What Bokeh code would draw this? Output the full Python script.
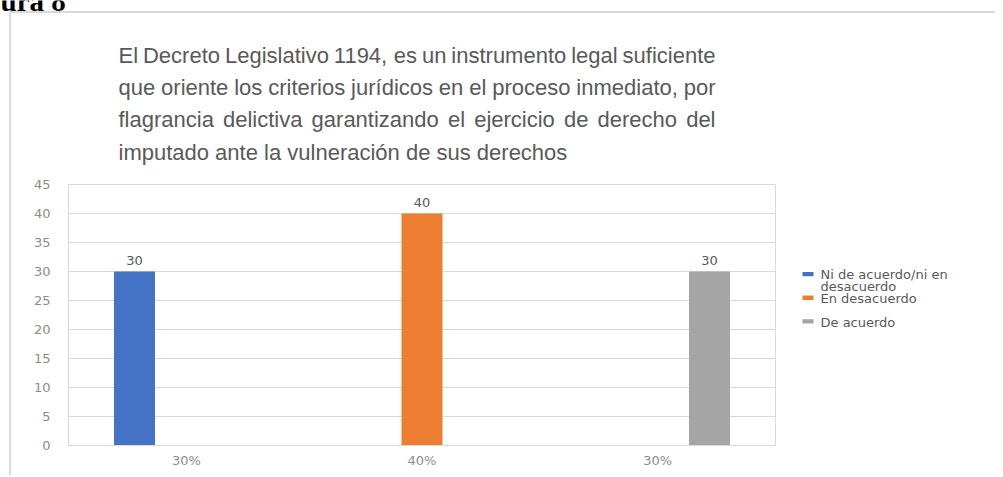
from bokeh.plotting import figure
from bokeh.layouts import column, row
from bokeh.models import Range1d, FixedTicker
from bokeh.core.properties import value
from bokeh.embed import file_html
from bokeh.resources import INLINE

# ---------------- data ----------------
categories = ["30%", "40%", "30%"]
series_names = ["Ni de acuerdo/ni en desacuerdo", "En desacuerdo", "De acuerdo"]
series_name_lines = [["Ni de acuerdo/ni en", "desacuerdo"], ["En desacuerdo"], ["De acuerdo"]]
values_ni_de_acuerdo = [30, None, None]
values_en_desacuerdo = [None, 40, None]
values_de_acuerdo = [None, None, 30]
y_ticks = [0, 5, 10, 15, 20, 25, 30, 35, 40, 45]
title_lines = [
    "El Decreto Legislativo 1194, es un instrumento legal suficiente",
    "que oriente los criterios jurídicos en el proceso inmediato, por",
    "flagrancia delictiva garantizando el ejercicio de derecho del",
    "imputado ante la vulneración de sus derechos",
]
heading_fragment = "ura 8"

series_values = [values_ni_de_acuerdo, values_en_desacuerdo, values_de_acuerdo]
series_colors = ["#4472C4", "#ED7D31", "#A5A5A5"]

# ---------------- layout (page pixels) ----------------
PAGE_R, PAGE_B = 995, 475
SPLIT_Y = 172            # boundary title block / chart block
SPLIT_X = 780            # boundary chart / legend
FL, FR, FT, FB = 68, 775, 184, 445   # plot area
CHART_FONT = "DejaVu Sans"
GRID = "#d9d9d9"
LINE_BG = "linear-gradient(#d9d9d9,#d9d9d9)"


def blank(fig):
    fig.xaxis.visible = False
    fig.yaxis.visible = False
    fig.xgrid.visible = False
    fig.ygrid.visible = False
    fig.outline_line_color = None
    fig.border_fill_alpha = 0
    fig.background_fill_alpha = 0
    fig.min_border = 0


# ---------- title block ----------
tf = figure(width=PAGE_R, height=SPLIT_Y, x_range=Range1d(0, PAGE_R), y_range=Range1d(SPLIT_Y, 0),
            output_backend="svg", toolbar_location=None, title=None)
blank(tf)
tf.styles = {
    "background-image": f"{LINE_BG}, {LINE_BG}",
    "background-size": "100% 2px, 2px 100%",
    "background-position": "10px 11px, 9px 11px",
    "background-repeat": "no-repeat",
}

ARIAL = {' ': 278, ',': 278, '.': 278, 'a': 556, 'b': 556, 'c': 500, 'd': 556, 'e': 556, 'f': 278,
         'g': 556, 'h': 556, 'i': 222, 'j': 222, 'k': 500, 'l': 222, 'm': 833, 'n': 556, 'o': 556,
         'p': 556, 'q': 556, 'r': 333, 's': 500, 't': 278, 'u': 556, 'v': 500, 'w': 722, 'x': 500,
         'y': 500, 'z': 500, 'í': 278, 'ó': 556, 'é': 556, 'á': 556, 'E': 667, 'D': 722, 'L': 556}
for d in "0123456789":
    ARIAL[d] = 556
TITLE_FONT = "Liberation Sans"
TITLE_SIZE = 22


def text_w(s):
    return sum(ARIAL.get(c, 556) for c in s) / 1000.0 * TITLE_SIZE


TX0, TX1 = 118, 715
MID0, LEAD = 55.0, 32.2      # vertical centre of the first title line, line pitch
wx, wy, wt = [], [], []
for k, line in enumerate(title_lines):
    mid = MID0 + k * LEAD
    words = line.split(" ")
    if k < len(title_lines) - 1:
        total = sum(text_w(w) for w in words)
        gap = (TX1 - TX0 - total) / (len(words) - 1)
        x = TX0
        for w in words:
            wx.append(x); wy.append(mid); wt.append(w)
            x += text_w(w) + gap
    else:
        wx.append(TX0); wy.append(mid); wt.append(line)
tf.text(x=wx, y=wy, text=wt, text_font=value(TITLE_FONT), text_font_size=value(f"{TITLE_SIZE}px"),
        text_color="#595959", text_align="left", text_baseline="middle")
tf.text(x=[0], y=[0], text=[heading_fragment], text_font=value("Liberation Serif"),
        text_font_style="bold", text_font_size=value("29px"), text_color="black",
        text_align="left", text_baseline="middle")

# ---------- chart ----------
p = figure(width=SPLIT_X, height=PAGE_B - SPLIT_Y, x_range=Range1d(0, len(categories)),
           y_range=Range1d(0, 45), output_backend="svg", toolbar_location=None, title=None,
           min_border_left=FL, min_border_right=SPLIT_X - FR, min_border_top=FT - SPLIT_Y,
           min_border_bottom=PAGE_B - FB)
p.border_fill_alpha = 0
p.background_fill_color = "white"
p.outline_line_color = GRID
p.outline_line_width = 1
p.styles = {
    "background-image": LINE_BG,
    "background-size": "2px 100%",
    "background-position": "9px 0px",
    "background-repeat": "no-repeat",
}

SPREAD, BAR_W = 0.22, 0.174
for j, (vals, color) in enumerate(zip(series_values, series_colors)):
    xs = [i + 0.5 + (j - 1) * SPREAD for i, v in enumerate(vals) if v is not None]
    tops = [v for v in vals if v is not None]
    p.vbar(x=xs, top=tops, bottom=0, width=BAR_W, fill_color=color, line_color=None)
    p.text(x=xs, y=tops, text=[str(v) for v in tops], text_align="center", text_baseline="middle",
           y_offset=-11, text_font=value(CHART_FONT), text_font_size=value("13px"), text_color="#595959")

p.xgrid.visible = False
p.ygrid.ticker = FixedTicker(ticks=y_ticks)
p.ygrid.grid_line_color = GRID
p.yaxis.ticker = FixedTicker(ticks=y_ticks)
p.yaxis.axis_line_color = None
p.yaxis.major_tick_line_color = None
p.yaxis.minor_tick_line_color = None
p.yaxis.major_tick_out = 0
p.yaxis.major_tick_in = 0
p.yaxis.major_label_standoff = 18
p.yaxis.major_label_text_font = CHART_FONT
p.yaxis.major_label_text_font_size = "13px"
p.yaxis.major_label_text_color = "#8c8c8c"

p.xaxis.ticker = FixedTicker(ticks=[i + 0.5 for i in range(len(categories))])
p.xaxis.major_label_overrides = {i + 0.5: c for i, c in enumerate(categories)}
p.xaxis.axis_line_color = GRID
p.xaxis.major_tick_line_color = None
p.xaxis.minor_tick_line_color = None
p.xaxis.major_tick_out = 0
p.xaxis.major_tick_in = 0
p.xaxis.major_label_standoff = 7
p.xaxis.major_label_text_font = CHART_FONT
p.xaxis.major_label_text_font_size = "13px"
p.xaxis.major_label_text_color = "#8c8c8c"

# ---------- legend ----------
lg = figure(width=PAGE_R - SPLIT_X, height=PAGE_B - SPLIT_Y, x_range=Range1d(SPLIT_X, PAGE_R),
            y_range=Range1d(PAGE_B, SPLIT_Y), output_backend="svg", toolbar_location=None, title=None)
blank(lg)
LEG_X, LEG_Y0, LEG_STEP, LINE_H = 807.5, 276, 27.5, 13
sw_x, sw_y, tx, ty, tt = [], [], [], [], []
for k, lines in enumerate(series_name_lines):
    y0 = LEG_Y0 + k * LEG_STEP
    sw_x.append(LEG_X); sw_y.append(y0)
    for m, ln in enumerate(lines):
        tx.append(LEG_X + 12.5); ty.append(y0 + 1 + m * LINE_H); tt.append(ln)
lg.rect(x=sw_x, y=sw_y, width=11, height=5, fill_color=series_colors, line_color=None)
lg.text(x=tx, y=ty, text=tt, text_font=value(CHART_FONT), text_font_size=value("13px"),
        text_color="#595959", text_align="left", text_baseline="middle")

layout = column(tf, row(p, lg))
open("out.html", "w").write(file_html(layout, INLINE))
